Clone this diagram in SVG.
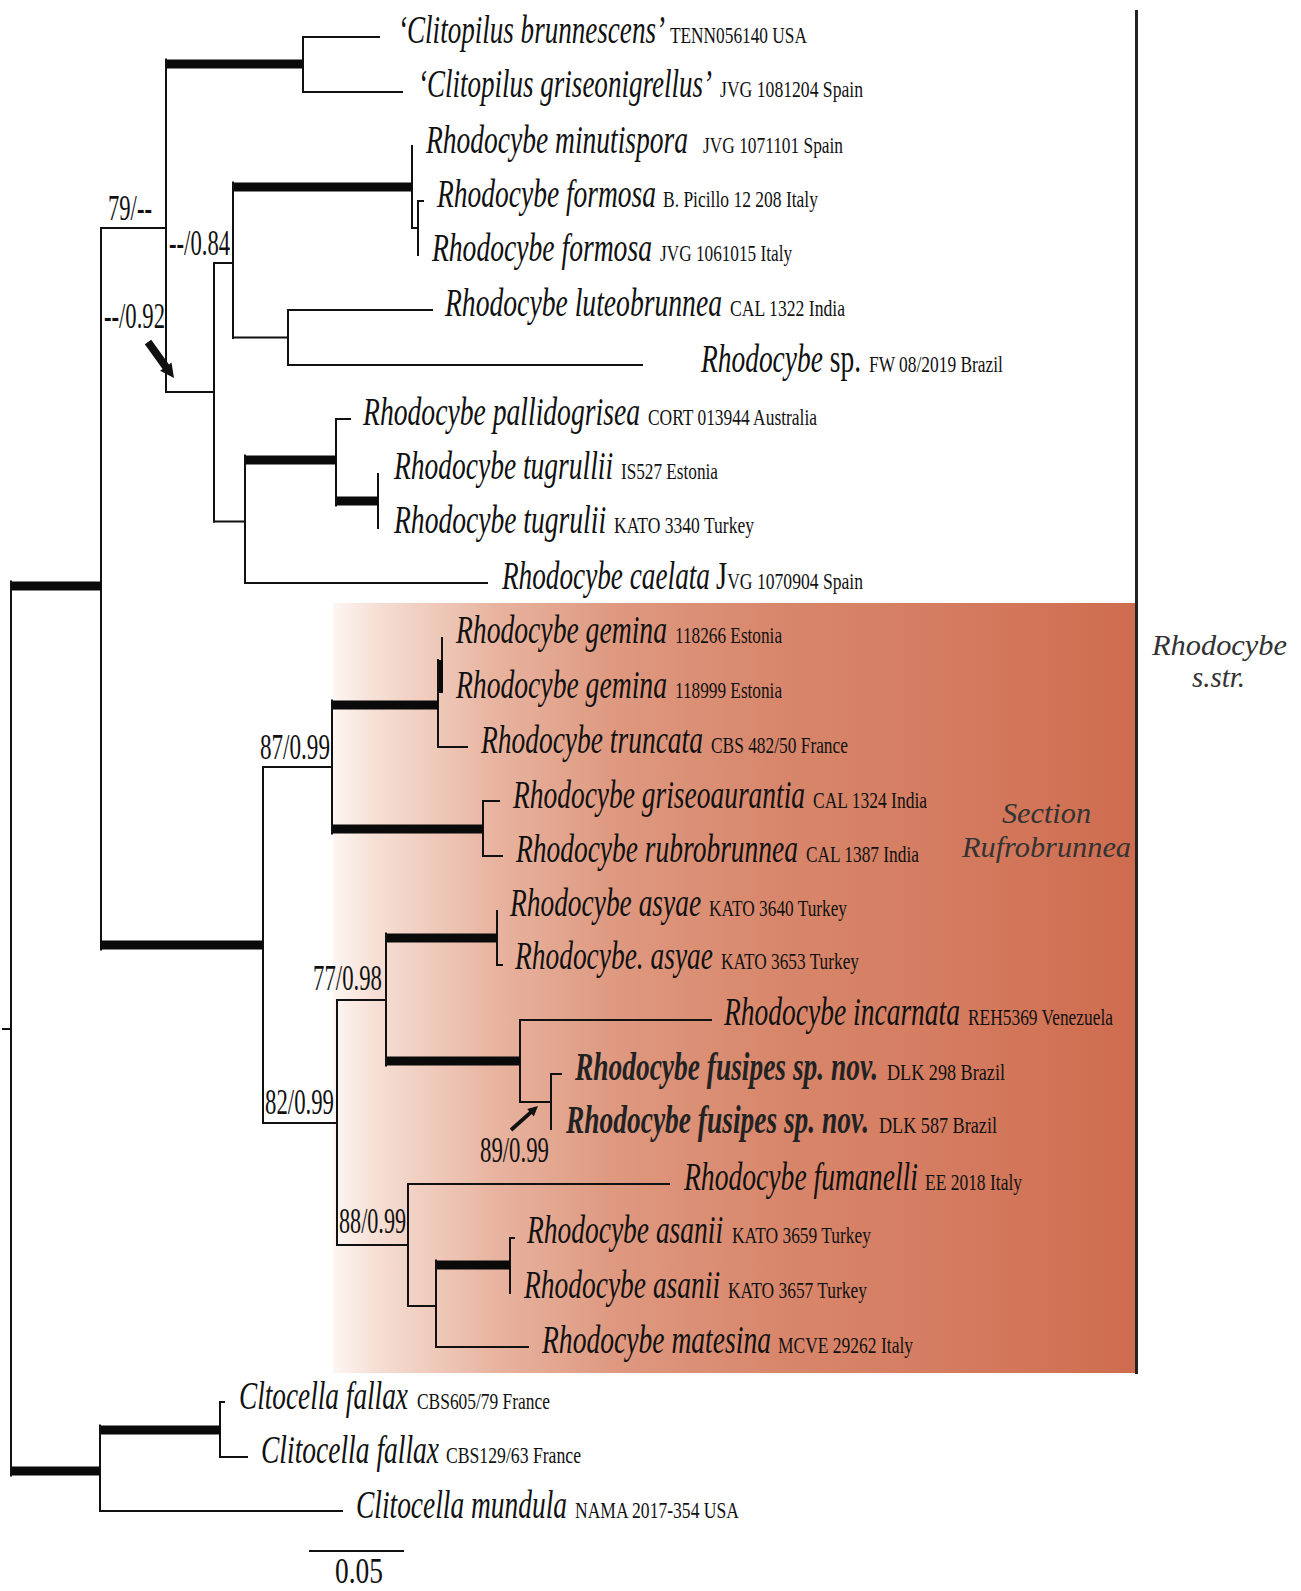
<svg xmlns="http://www.w3.org/2000/svg" width="1301" height="1591" viewBox="0 0 1301 1591">
<defs>
<linearGradient id="rufro" gradientUnits="userSpaceOnUse" x1="333" y1="0" x2="1135" y2="0">
<stop offset="0" stop-color="#fdf6f2"/>
<stop offset="0.05" stop-color="#f6e0d6"/>
<stop offset="0.2" stop-color="#e8b4a0"/>
<stop offset="0.35" stop-color="#de9980"/>
<stop offset="0.55" stop-color="#d8876c"/>
<stop offset="0.78" stop-color="#d47b5f"/>
<stop offset="1" stop-color="#cf6c4f"/>
</linearGradient>
<style>
.thin{fill:none;stroke:#111;stroke-width:2;stroke-linecap:square}
.thick{fill:none;stroke:#0a0a0a;stroke-width:9;stroke-linecap:butt}
.sp{font-family:"Liberation Serif",serif;font-style:italic;font-size:39px;fill:#111}
.spb{font-family:"Liberation Serif",serif;font-style:italic;font-weight:bold;font-size:39px;fill:#222}
.id{font-family:"Liberation Serif",serif;font-size:24px;fill:#111}
.bs{font-family:"Liberation Serif",serif;font-size:36px;fill:#111}
.clade{font-family:"Liberation Serif",serif;font-style:italic;font-size:29px;fill:#333}
.arrow{fill:#111}
</style>
</defs>
<rect width="1301" height="1591" fill="#ffffff"/>
<g id="section-rufrobrunnea">
<rect x="333" y="603" width="802" height="770" fill="url(#rufro)"/>
<text class="clade" x="1002" y="823" textLength="89" lengthAdjust="spacingAndGlyphs" fill="#2e2420">Section</text>
<text class="clade" x="962" y="857" textLength="169" lengthAdjust="spacingAndGlyphs" fill="#2e2420">Rufrobrunnea</text>
</g>
<g id="clade-rhodocybe-sstr">
<line x1="1136.5" y1="10" x2="1136.5" y2="1374" stroke="#222" stroke-width="3"/>
<text class="clade" x="1152" y="655" textLength="135" lengthAdjust="spacingAndGlyphs">Rhodocybe</text>
<text class="clade" x="1192" y="687" textLength="53" lengthAdjust="spacingAndGlyphs">s.str.</text>
</g>
<g id="connectors">
<path class="thin" d="M303 37V92M303 37H379M303 92H402"/>
<path class="thick" d="M165 64H303"/>
<path class="thin" d="M412 146V228"/>
<path class="thick" d="M232 187H412"/>
<path class="thin" d="M418 201V255M418 201H423M412 228H418"/>
<path class="thin" d="M288 310V365M288 310H432M288 365H642M233 337.5H288"/>
<path class="thin" d="M233 182.5V338M214 263H233"/>
<path class="thin" d="M378 474V528"/>
<path class="thick" d="M335 501H378"/>
<path class="thin" d="M336 419V505.5M336 419H350"/>
<path class="thick" d="M244 460H336"/>
<path class="thin" d="M245 455.5V583M245 583H487M214 521.5H245"/>
<path class="thin" d="M214 263V521.5M166 392H214"/>
<path class="thin" d="M166 59.5V392M101 228H166"/>
<path class="thin" d="M101 228V949.5"/>
<path class="thick" d="M10 586H101"/>
<path class="thin" d="M442 638V692"/>
<rect x="438" y="660" width="5" height="33" fill="#0a0a0a"/>
<path class="thin" d="M438 660V747M438 747H467"/>
<path class="thick" d="M331 705H438"/>
<path class="thin" d="M483 801V856M483 801H499M483 856H502"/>
<path class="thick" d="M331 829H483"/>
<path class="thin" d="M332 700.5V833.5M263 767H332"/>
<path class="thin" d="M497 911V965M497 965H502"/>
<path class="thick" d="M385 938H497"/>
<path class="thin" d="M551 1074V1129M551 1074H561M520 1102H551"/>
<path class="thin" d="M520 1020V1102M520 1020H711"/>
<path class="thick" d="M385 1061H520"/>
<path class="thin" d="M386 933.5V1065.5M337 1000H386"/>
<path class="thin" d="M510 1238V1293M510 1238H514"/>
<path class="thick" d="M435 1265H510"/>
<path class="thin" d="M436 1260.5V1347M436 1347H528M408 1306H436"/>
<path class="thin" d="M408 1184V1306M408 1184H669M337 1245H408"/>
<path class="thin" d="M337 1000V1245M263 1123H337"/>
<path class="thin" d="M263 767V1123"/>
<path class="thick" d="M100 945H263"/>
<path class="thin" d="M220 1402V1457M220 1402H224M220 1457H247"/>
<path class="thick" d="M99 1430H220"/>
<path class="thin" d="M100 1425.5V1511M100 1511H342"/>
<path class="thick" d="M10 1471H100"/>
<path class="thin" d="M11 581.5V1475.5M3 1029H11"/>
<polygon class="arrow" points="151.2,339.7 169,364.4 171.5,362.6 174,378 160.1,370.8 162.6,369 144.8,344.3"/>
<polygon class="arrow" points="509.7,1128.5 529.2,1111.2 527.2,1108.9 538,1106 533.8,1116.4 531.8,1114.1 512.3,1131.5"/>
</g>
<g id="supports" transform="scale(0.6 1)">
<text class="bs" x="180" y="220" textLength="73.3" lengthAdjust="spacingAndGlyphs">79/<tspan font-weight="bold">--</tspan></text>
<text class="bs" x="281.7" y="255" textLength="101.7" lengthAdjust="spacingAndGlyphs"><tspan font-weight="bold">--</tspan>/0.84</text>
<text class="bs" x="173.3" y="328" textLength="101.7" lengthAdjust="spacingAndGlyphs"><tspan font-weight="bold">--</tspan>/0.92</text>
<text class="bs" x="433.3" y="759" textLength="116.7" lengthAdjust="spacingAndGlyphs">87/0.99</text>
<text class="bs" x="521.7" y="990" textLength="115" lengthAdjust="spacingAndGlyphs">77/0.98</text>
<text class="bs" x="441.7" y="1114" textLength="115" lengthAdjust="spacingAndGlyphs">82/0.99</text>
<text class="bs" x="565" y="1233" textLength="111.7" lengthAdjust="spacingAndGlyphs">88/0.99</text>
<text class="bs" x="800" y="1162" textLength="115" lengthAdjust="spacingAndGlyphs">89/0.99</text>
</g>
<g id="taxon-0" transform="scale(0.7 1)"><text class="sp" x="568.6" y="43" textLength="381.4" lengthAdjust="spacingAndGlyphs">‘Clitopilus brunnescens’</text><text class="id" x="957.1" y="43" textLength="195.7" lengthAdjust="spacingAndGlyphs">TENN056140 USA</text></g>
<g id="taxon-1" transform="scale(0.7 1)"><text class="sp" x="597.1" y="97" textLength="420" lengthAdjust="spacingAndGlyphs">‘Clitopilus griseonigrellus’</text><text class="id" x="1028.6" y="97" textLength="204.3" lengthAdjust="spacingAndGlyphs">JVG 1081204 Spain</text></g>
<g id="taxon-2" transform="scale(0.7 1)"><text class="sp" x="608.6" y="153" textLength="374.3" lengthAdjust="spacingAndGlyphs">Rhodocybe minutispora</text><text class="id" x="1004.3" y="153" textLength="200" lengthAdjust="spacingAndGlyphs">JVG 1071101 Spain</text></g>
<g id="taxon-3" transform="scale(0.7 1)"><text class="sp" x="624.3" y="207" textLength="312.9" lengthAdjust="spacingAndGlyphs">Rhodocybe formosa</text><text class="id" x="947.1" y="207" textLength="221.4" lengthAdjust="spacingAndGlyphs">B. Picillo 12 208 Italy</text></g>
<g id="taxon-4" transform="scale(0.7 1)"><text class="sp" x="617.1" y="261" textLength="314.3" lengthAdjust="spacingAndGlyphs">Rhodocybe formosa</text><text class="id" x="942.9" y="261" textLength="188.6" lengthAdjust="spacingAndGlyphs">JVG 1061015 Italy</text></g>
<g id="taxon-5" transform="scale(0.7 1)"><text class="sp" x="635.7" y="316" textLength="395.7" lengthAdjust="spacingAndGlyphs">Rhodocybe luteobrunnea</text><text class="id" x="1042.9" y="316" textLength="164.3" lengthAdjust="spacingAndGlyphs">CAL 1322 India</text></g>
<g id="taxon-6" transform="scale(0.7 1)"><text class="sp" x="1001.4" y="372" textLength="228.6" lengthAdjust="spacingAndGlyphs">Rhodocybe <tspan font-style="normal">sp.</tspan></text><text class="id" x="1241.4" y="372" textLength="191.4" lengthAdjust="spacingAndGlyphs">FW 08/2019 Brazil</text></g>
<g id="taxon-7" transform="scale(0.7 1)"><text class="sp" x="518.6" y="425" textLength="395.7" lengthAdjust="spacingAndGlyphs">Rhodocybe pallidogrisea</text><text class="id" x="925.7" y="425" textLength="241.4" lengthAdjust="spacingAndGlyphs">CORT 013944 Australia</text></g>
<g id="taxon-8" transform="scale(0.7 1)"><text class="sp" x="562.9" y="479" textLength="312.9" lengthAdjust="spacingAndGlyphs">Rhodocybe tugrullii</text><text class="id" x="887.1" y="479" textLength="138.6" lengthAdjust="spacingAndGlyphs">IS527 Estonia</text></g>
<g id="taxon-9" transform="scale(0.7 1)"><text class="sp" x="562.9" y="533" textLength="302.9" lengthAdjust="spacingAndGlyphs">Rhodocybe tugrulii</text><text class="id" x="877.1" y="533" textLength="200" lengthAdjust="spacingAndGlyphs">KATO 3340 Turkey</text></g>
<g id="taxon-10" transform="scale(0.7 1)"><text class="sp" x="717.1" y="589" textLength="297.1" lengthAdjust="spacingAndGlyphs">Rhodocybe caelata</text><text class="id" x="1022.9" y="589" textLength="210" lengthAdjust="spacingAndGlyphs"><tspan font-size="39">J</tspan>VG 1070904 Spain</text></g>
<g id="taxon-11" transform="scale(0.7 1)"><text class="sp" x="651.4" y="643" textLength="301.4" lengthAdjust="spacingAndGlyphs">Rhodocybe gemina</text><text class="id" x="964.3" y="643" textLength="152.9" lengthAdjust="spacingAndGlyphs">118266 Estonia</text></g>
<g id="taxon-12" transform="scale(0.7 1)"><text class="sp" x="651.4" y="698" textLength="301.4" lengthAdjust="spacingAndGlyphs">Rhodocybe gemina</text><text class="id" x="964.3" y="698" textLength="152.9" lengthAdjust="spacingAndGlyphs">118999 Estonia</text></g>
<g id="taxon-13" transform="scale(0.7 1)"><text class="sp" x="687.1" y="753" textLength="317.1" lengthAdjust="spacingAndGlyphs">Rhodocybe truncata</text><text class="id" x="1015.7" y="753" textLength="195.7" lengthAdjust="spacingAndGlyphs">CBS 482/50 France</text></g>
<g id="taxon-14" transform="scale(0.7 1)"><text class="sp" x="732.9" y="808" textLength="417.1" lengthAdjust="spacingAndGlyphs">Rhodocybe griseoaurantia</text><text class="id" x="1161.4" y="808" textLength="162.9" lengthAdjust="spacingAndGlyphs">CAL 1324 India</text></g>
<g id="taxon-15" transform="scale(0.7 1)"><text class="sp" x="737.1" y="862" textLength="402.9" lengthAdjust="spacingAndGlyphs">Rhodocybe rubrobrunnea</text><text class="id" x="1151.4" y="862" textLength="161.4" lengthAdjust="spacingAndGlyphs">CAL 1387 India</text></g>
<g id="taxon-16" transform="scale(0.7 1)"><text class="sp" x="728.6" y="916" textLength="272.9" lengthAdjust="spacingAndGlyphs">Rhodocybe asyae</text><text class="id" x="1012.9" y="916" textLength="197.1" lengthAdjust="spacingAndGlyphs">KATO 3640 Turkey</text></g>
<g id="taxon-17" transform="scale(0.7 1)"><text class="sp" x="735.7" y="969" textLength="282.9" lengthAdjust="spacingAndGlyphs">Rhodocybe. asyae</text><text class="id" x="1030" y="969" textLength="197.1" lengthAdjust="spacingAndGlyphs">KATO 3653 Turkey</text></g>
<g id="taxon-18" transform="scale(0.7 1)"><text class="sp" x="1034.3" y="1025" textLength="337.1" lengthAdjust="spacingAndGlyphs">Rhodocybe incarnata</text><text class="id" x="1382.9" y="1025" textLength="207.1" lengthAdjust="spacingAndGlyphs">REH5369 Venezuela</text></g>
<g id="taxon-19" transform="scale(0.7 1)"><text class="spb" x="821.4" y="1080" textLength="432.9" lengthAdjust="spacingAndGlyphs">Rhodocybe fusipes sp. nov.</text><text class="id" x="1267.1" y="1080" textLength="168.6" lengthAdjust="spacingAndGlyphs" fill="#222">DLK 298 Brazil</text></g>
<g id="taxon-20" transform="scale(0.7 1)"><text class="spb" x="808.6" y="1133" textLength="432.9" lengthAdjust="spacingAndGlyphs">Rhodocybe fusipes sp. nov.</text><text class="id" x="1255.7" y="1133" textLength="168.6" lengthAdjust="spacingAndGlyphs" fill="#222">DLK 587 Brazil</text></g>
<g id="taxon-21" transform="scale(0.7 1)"><text class="sp" x="977.1" y="1190" textLength="334.3" lengthAdjust="spacingAndGlyphs">Rhodocybe fumanelli</text><text class="id" x="1321.4" y="1190" textLength="138.6" lengthAdjust="spacingAndGlyphs">EE 2018 Italy</text></g>
<g id="taxon-22" transform="scale(0.7 1)"><text class="sp" x="752.9" y="1243" textLength="280" lengthAdjust="spacingAndGlyphs">Rhodocybe asanii</text><text class="id" x="1045.7" y="1243" textLength="198.6" lengthAdjust="spacingAndGlyphs">KATO 3659 Turkey</text></g>
<g id="taxon-23" transform="scale(0.7 1)"><text class="sp" x="748.6" y="1298" textLength="280" lengthAdjust="spacingAndGlyphs">Rhodocybe asanii</text><text class="id" x="1040" y="1298" textLength="198.6" lengthAdjust="spacingAndGlyphs">KATO 3657 Turkey</text></g>
<g id="taxon-24" transform="scale(0.7 1)"><text class="sp" x="774.3" y="1353" textLength="327.1" lengthAdjust="spacingAndGlyphs">Rhodocybe matesina</text><text class="id" x="1111.4" y="1353" textLength="192.9" lengthAdjust="spacingAndGlyphs">MCVE 29262 Italy</text></g>
<g id="taxon-25" transform="scale(0.7 1)"><text class="sp" x="341.4" y="1409" textLength="241.4" lengthAdjust="spacingAndGlyphs">Cltocella fallax</text><text class="id" x="595.7" y="1409" textLength="190" lengthAdjust="spacingAndGlyphs">CBS605/79 France</text></g>
<g id="taxon-26" transform="scale(0.7 1)"><text class="sp" x="372.9" y="1463" textLength="254.3" lengthAdjust="spacingAndGlyphs">Clitocella fallax</text><text class="id" x="637.1" y="1463" textLength="192.9" lengthAdjust="spacingAndGlyphs">CBS129/63 France</text></g>
<g id="taxon-27" transform="scale(0.7 1)"><text class="sp" x="508.6" y="1518" textLength="301.4" lengthAdjust="spacingAndGlyphs">Clitocella mundula</text><text class="id" x="821.4" y="1518" textLength="234.3" lengthAdjust="spacingAndGlyphs">NAMA 2017-354 USA</text></g>
<g id="scale-bar">
<line x1="309" y1="1551" x2="404" y2="1551" stroke="#111" stroke-width="2"/>
<text class="bs" x="558.3" y="1583" textLength="80" lengthAdjust="spacingAndGlyphs" transform="scale(0.6 1)">0.05</text>
</g>
</svg>
